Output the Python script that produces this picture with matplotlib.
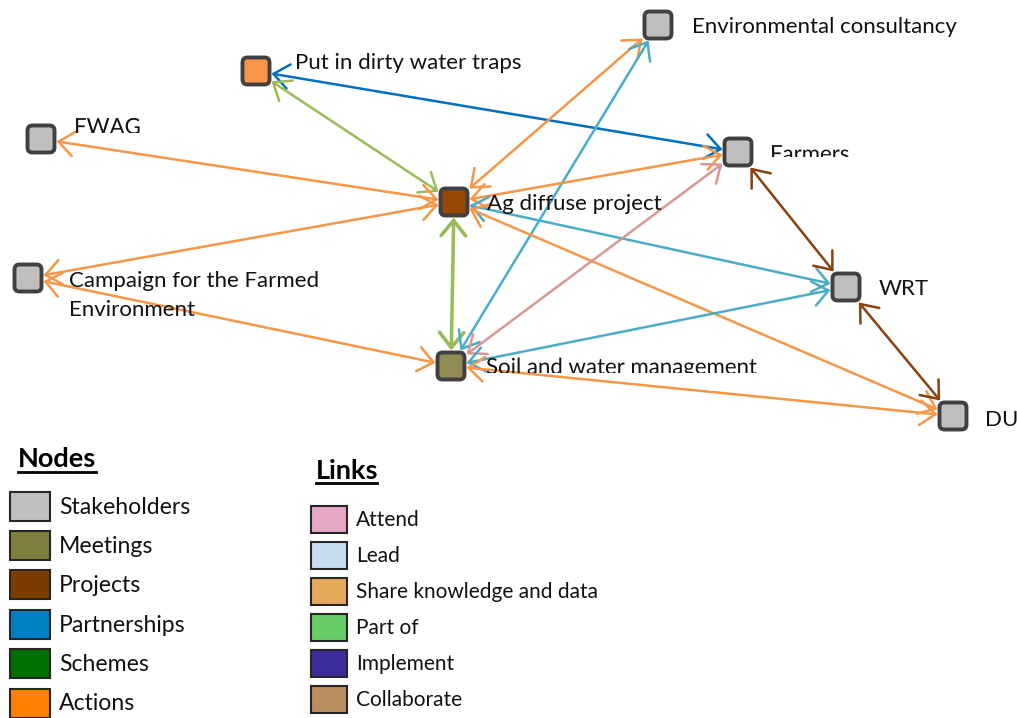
"""
Network diagram: stakeholders, meetings, projects and actions around
the Ag diffuse project, with a Nodes / Links key underneath.
"""
import matplotlib
matplotlib.use("Agg")
import matplotlib.pyplot as plt
from matplotlib.patches import FancyArrowPatch, FancyBboxPatch, Rectangle, PathPatch, ArrowStyle
from matplotlib.path import Path
from matplotlib.textpath import TextPath
from matplotlib.font_manager import FontProperties
from matplotlib.transforms import Affine2D

plt.rcParams['font.family'] = ['Lato', 'DejaVu Sans']

# nodes, positions (pixels, y down)
node_names = ["Put in dirty water traps", "FWAG", "Ag diffuse project",
              "Campaign for the Farmed\nEnvironment", "Soil and water management",
              "Environmental consultancy", "Farmers", "WRT", "DU"]
node_x = [256, 41, 454, 28, 451, 658, 738, 846, 953]
node_y = [71, 139, 202, 278, 366, 25, 152, 287, 416]
node_colors = ["#F79646", "#BFBFBF", "#974806", "#BFBFBF", "#948A54",
               "#BFBFBF", "#BFBFBF", "#BFBFBF", "#BFBFBF"]
label_x = [295, 74, 487, 69, 486, 692, 770, 879, 985]
label_base = [69, 134, 210, 287, 374, 33, 161, 295, 426]   # text baselines
label_cut = [None, 133, None, None, 373, None, 157, None, None]  # labels cut off at the bottom

# links (all two-way)
edge_src = [0, 0, 1, 3, 3, 2, 2, 4, 2, 2, 2, 4, 4, 4, 6, 7]
edge_dst = [6, 2, 2, 2, 4, 4, 5, 5, 6, 7, 8, 6, 7, 8, 7, 8]
edge_kind = ["partner", "part", "share", "share", "share", "part_main", "share", "lead",
             "share", "lead", "share", "attend", "lead", "share", "collab", "collab"]
kind_color = {"partner": "#0070C0", "part": "#9BBB59", "part_main": "#9BBB59",
              "share": "#F79646", "lead": "#4BACC6", "attend": "#D99694",
              "collab": "#87420F"}

# key
node_types = ["Stakeholders", "Meetings", "Projects", "Partnerships", "Schemes", "Actions"]
node_type_colors = ["#C0C0C0", "#7F7F40", "#7B3C00", "#0080C4", "#007000", "#FF8000"]
link_types = ["Attend", "Lead", "Share knowledge and data", "Part of", "Implement", "Collaborate"]
link_type_colors = ["#E6A8C8", "#C6DCF1", "#E4AA59", "#66CC66", "#3B2C9C", "#B98E5F"]

W, H = 1017, 718
fig = plt.figure(figsize=(W / 100, H / 100), dpi=100)
ax = fig.add_axes([0, 0, 1, 1])
ax.set_xlim(0, W)
ax.set_ylim(H, 0)
ax.axis('off')

HALF = 15.5
LABEL_PT = 16
LINE_GAP = 29.5


def box_edge(xa, ya, xb, yb):
    # point where the line from a to b leaves the square around a
    dx, dy = xb - xa, yb - ya
    t = HALF / max(abs(dx), abs(dy))
    return xa + dx * t, ya + dy * t


head = ArrowStyle("<->", head_length=0.5, head_width=0.4)
for s, d, k in zip(edge_src, edge_dst, edge_kind):
    xa, ya, xb, yb = node_x[s], node_y[s], node_x[d], node_y[d]
    p0 = box_edge(xa, ya, xb, yb)
    p1 = box_edge(xb, yb, xa, ya)
    lw = 2.6 if k == "part_main" else 1.8
    arr = FancyArrowPatch(p0, p1, arrowstyle=head, mutation_scale=22,
                          color=kind_color[k], lw=lw, shrinkA=0, shrinkB=0, zorder=2)
    ax.add_patch(arr)

label_font = FontProperties(family='Lato')
for i, name in enumerate(node_names):
    ax.add_patch(FancyBboxPatch((node_x[i] - 13.5, node_y[i] - 13.5), 27, 27,
                                boxstyle="round,pad=0,rounding_size=5",
                                fc=node_colors[i], ec="#404040", lw=2.8, zorder=3))
    for j, line in enumerate(name.split('\n')):
        yb = label_base[i] + j * LINE_GAP
        if label_cut[i] is None:
            ax.text(label_x[i], yb, line, fontsize=LABEL_PT, ha='left', va='baseline',
                    color='#111111', zorder=4)
        else:
            # label cut off just above its baseline, as in the original
            tp = TextPath((0, 0), line, size=LABEL_PT * 100 / 72, prop=label_font)
            tr = Affine2D().scale(1, -1).translate(label_x[i], yb) + ax.transData
            pp = PathPatch(tp, transform=tr, fc='#111111', ec='none', zorder=4)
            c = label_cut[i]
            keep = Path([(0, 0), (W, 0), (W, c), (0, c), (0, 0)], closed=True)
            ax.add_patch(pp)
            pp.set_clip_path(keep, ax.transData)

# key: nodes
ax.text(18, 459, "Nodes", fontsize=19.5, fontweight='bold', ha='left', va='center')
ax.plot([18, 96], [472, 472], color='black', lw=2)
for i, (name, col) in enumerate(zip(node_types, node_type_colors)):
    yc = 506 + i * 39.4
    ax.add_patch(Rectangle((10, yc - 14.5), 40, 29, fc=col, ec='#262626', lw=1.5))
    ax.text(59, yc + 1, name, fontsize=16.6, ha='left', va='center', color='#111111')

# key: links
ax.text(316, 471, "Links", fontsize=19.5, fontweight='bold', ha='left', va='center')
ax.plot([316, 377], [483, 483], color='black', lw=2)
for i, (name, col) in enumerate(zip(link_types, link_type_colors)):
    yc = 519 + i * 36
    ax.add_patch(Rectangle((311, yc - 13.5), 36, 27, fc=col, ec='#262626', lw=1.5))
    ax.text(356, yc + 1, name, fontsize=15, ha='left', va='center', color='#111111')

fig.savefig("out.png", dpi=100)
